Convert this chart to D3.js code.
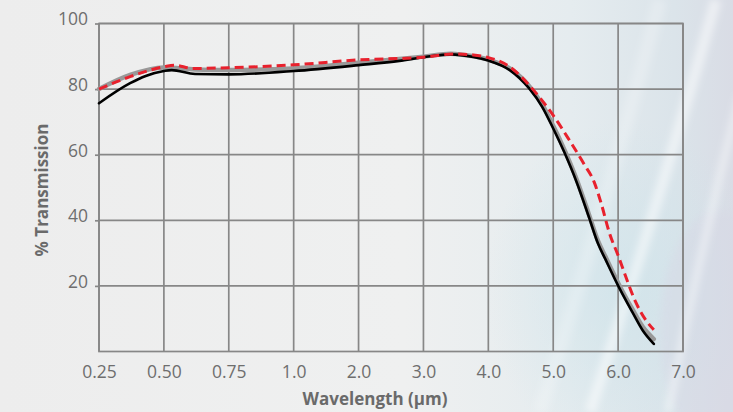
<!DOCTYPE html>
<html>
<head>
<meta charset="utf-8">
<script src="https://cdn.jsdelivr.net/npm/d3@7/dist/d3.min.js"></script>
<style>
  html, body { margin: 0; padding: 0; background: #efefef; }
  svg { display: block; }
</style>
</head>
<body>
<svg id="chart" width="733" height="412"></svg>
<script>
// ---- data ----
const xTicks = [0.25, 0.5, 0.75, 1.0, 2.0, 3.0, 4.0, 5.0, 6.0, 7.0];
const xTickLabels = ["0.25", "0.50", "0.75", "1.0", "2.0", "3.0", "4.0", "5.0", "6.0", "7.0"];
const yTicks = [20, 40, 60, 80, 100];

const grayX = [0.25,0.37,0.5,0.62,0.75,1.0,2.0,3.0,3.42,3.77,4.0,4.33,4.63,4.83,5.0,5.17,5.36,5.55,5.69,5.80,6.0,6.22,6.38,6.55];
const grayY = [80.0,84.3,86.6,86.0,85.8,86.3,88.0,89.9,90.8,90.0,89.0,86.3,80.9,75.3,68.8,61.6,52.5,41.8,33.7,29.1,20.9,12.9,7.5,3.8];

const blackX = [0.25,0.37,0.43,0.50,0.53,0.62,0.75,1.0,2.0,2.63,3.0,3.42,3.77,4.0,4.33,4.63,4.83,5.0,5.17,5.36,5.55,5.69,5.80,6.0,6.22,6.38,6.55];
const blackY = [75.7,81.8,84.0,85.5,85.8,84.6,84.5,85.5,87.3,88.6,89.7,90.6,89.8,88.7,85.8,80.2,74.6,68.0,60.8,51.7,41.0,32.9,28.3,20.1,12.0,6.4,2.3];

const redX = [0.25,0.37,0.50,0.54,0.61,0.75,1.0,2.0,3.0,3.47,3.77,4.0,4.33,4.63,4.78,5.0,5.25,5.47,5.63,5.74,5.87,6.0,6.12,6.27,6.43,6.55];
const redY = [80.0,83.8,86.8,87.3,86.3,86.5,87.4,88.9,89.7,90.7,90.4,89.6,86.8,81.2,77.7,72.0,64.4,57.3,51.7,45.1,35.9,29.3,22.7,15.1,9.5,6.6];

// ---- layout ----
const W = 733, H = 412;
const margin = { left: 99, right: 50, top: 23.5, bottom: 60.5 };
const innerW = W - margin.left - margin.right;
const innerH = H - margin.top - margin.bottom;

const svg = d3.select("#chart");

// ---- background ----
const defs = svg.append("defs");
const bg = defs.append("linearGradient").attr("id", "bg").attr("x1", "0%").attr("x2", "100%").attr("y1", "0%").attr("y2", "0%");
bg.append("stop").attr("offset", "0%").attr("stop-color", "#ededed");
bg.append("stop").attr("offset", "55%").attr("stop-color", "#eff0f0");
bg.append("stop").attr("offset", "78%").attr("stop-color", "#e5ecef");
bg.append("stop").attr("offset", "92%").attr("stop-color", "#dbe4ea");
bg.append("stop").attr("offset", "100%").attr("stop-color", "#d9dce5");

const rg = defs.append("radialGradient").attr("id", "blue").attr("cx", "0.5").attr("cy", "0.5").attr("r", "0.5");
rg.append("stop").attr("offset", "0%").attr("stop-color", "#cde3ea").attr("stop-opacity", 0.7);
rg.append("stop").attr("offset", "100%").attr("stop-color", "#cde3ea").attr("stop-opacity", 0);

const blur = defs.append("filter").attr("id", "blur").attr("x", "-50%").attr("y", "-50%").attr("width", "200%").attr("height", "200%");
blur.append("feGaussianBlur").attr("stdDeviation", 3.5);

svg.append("rect").attr("width", W).attr("height", H).attr("fill", "url(#bg)");
svg.append("ellipse").attr("cx", 625).attr("cy", 290).attr("rx", 140).attr("ry", 170).attr("fill", "url(#blue)");
svg.append("ellipse").attr("cx", 720).attr("cy", 330).attr("rx", 60).attr("ry", 120).attr("fill", "#d8d8e5").attr("opacity", 0.45).attr("filter", "url(#blur)");

const streaks = svg.append("g").attr("filter", "url(#blur)").attr("fill", "none").attr("stroke", "#ffffff");
streaks.append("path").attr("d", "M716,0 Q660,200 590,412").attr("stroke-width", 11).attr("stroke-opacity", 0.5);
streaks.append("path").attr("d", "M740,95 Q700,250 668,412").attr("stroke-width", 8).attr("stroke-opacity", 0.4);
streaks.append("path").attr("d", "M660,0 Q610,190 540,412").attr("stroke-width", 14).attr("stroke-opacity", 0.22);

// ---- scales ----
const point = d3.scalePoint().domain(d3.range(xTicks.length)).range([0, innerW]);
const x = d3.scaleLinear().domain(xTicks).range(xTicks.map((d, i) => point(i)));
const y = d3.scaleLinear().domain([0, 100]).range([innerH, 0]);

const g = svg.append("g").attr("transform", `translate(${margin.left},${margin.top})`);

const gridColor = "#878787";

// grid
g.append("g").selectAll("line").data(xTicks).join("line")
  .attr("x1", d => x(d)).attr("x2", d => x(d)).attr("y1", 0).attr("y2", innerH)
  .attr("stroke", gridColor).attr("stroke-width", 1.7);
g.append("g").selectAll("line").data(yTicks).join("line")
  .attr("x1", 0).attr("x2", innerW).attr("y1", d => y(d)).attr("y2", d => y(d))
  .attr("stroke", gridColor).attr("stroke-width", 1.7);
g.append("rect").attr("x", 0).attr("y", 0).attr("width", innerW).attr("height", innerH)
  .attr("fill", "none").attr("stroke", gridColor).attr("stroke-width", 1.7);

// axes
const textColor = "#6e6e6e";
const font = "'Open Sans', 'Noto Sans', sans-serif";

const yAxis = g.append("g").call(d3.axisLeft(y).tickValues(yTicks).tickSize(4).tickPadding(7));
yAxis.select(".domain").remove();
yAxis.selectAll(".tick line").attr("stroke", gridColor).attr("stroke-width", 1.7);
yAxis.selectAll(".tick text").attr("fill", textColor).style("font-family", font).style("font-size", "17.5px").attr("dy", "0.08em");

const xAxis = g.append("g").attr("transform", `translate(0,${innerH})`)
  .call(d3.axisBottom(x).tickValues(xTicks).tickFormat((d, i) => xTickLabels[i]).tickSize(0).tickPadding(14));
xAxis.select(".domain").remove();
xAxis.selectAll(".tick text").attr("fill", textColor).style("font-family", font).style("font-size", "17.5px");

// axis titles
svg.append("text").attr("x", 375).attr("y", 405)
  .attr("text-anchor", "middle").attr("fill", "#6a6a6a")
  .style("font-family", font).style("font-size", "17px").style("font-weight", "bold")
  .text("Wavelength (μm)");
svg.append("text").attr("transform", "translate(48,190) rotate(-90)")
  .attr("text-anchor", "middle").attr("fill", "#6a6a6a")
  .style("font-family", font).style("font-size", "17px").style("font-weight", "bold")
  .text("% Transmission");

// lines
const line = d3.line().x(d => x(d[0])).y(d => y(d[1])).curve(d3.curveMonotoneX);
const zip = (a, b) => a.map((v, i) => [v, b[i]]);

g.append("path").datum(zip(grayX, grayY)).attr("d", line)
  .attr("fill", "none").attr("stroke", "#999999").attr("stroke-width", 4.5).attr("stroke-linecap", "round");
g.append("path").datum(zip(blackX, blackY)).attr("d", line)
  .attr("fill", "none").attr("stroke", "#000000").attr("stroke-width", 2.6).attr("stroke-linecap", "round");
g.append("path").datum(zip(redX, redY)).attr("d", line)
  .attr("fill", "none").attr("stroke", "#e8212d").attr("stroke-width", 3).attr("stroke-dasharray", "9,5");
</script>
</body>
</html>
